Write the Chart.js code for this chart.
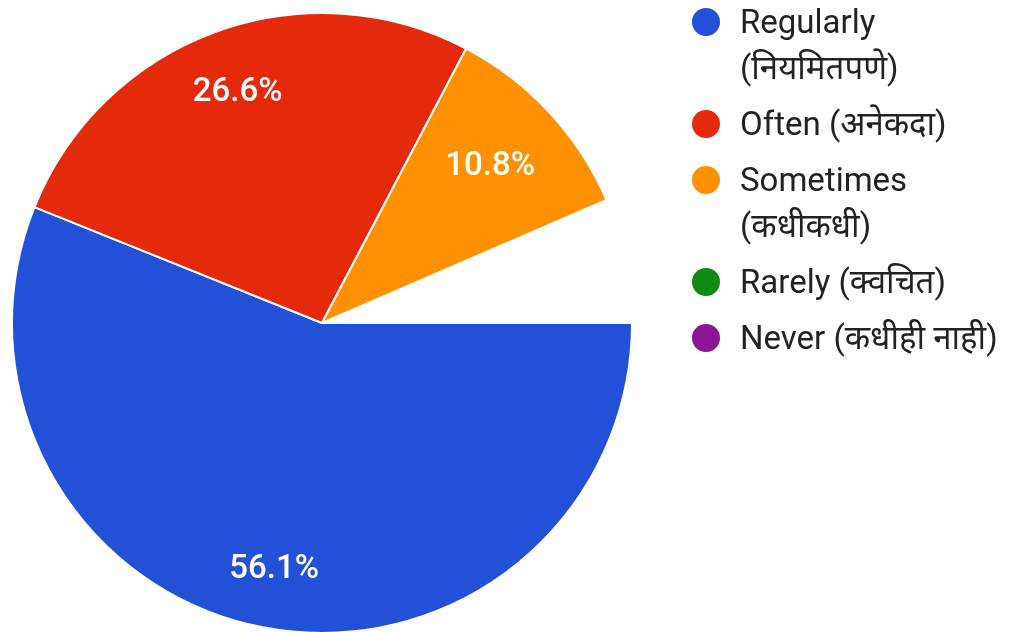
<!DOCTYPE html>
<html>
<head>
<meta charset="utf-8">
<script src="https://cdn.jsdelivr.net/npm/chart.js@4.4.1/dist/chart.umd.min.js"></script>
<style>
  html, body { margin: 0; padding: 0; background: #ffffff; width: 1015px; height: 632px; overflow: hidden; }
  #wrap { position: absolute; left: 0; top: 0; width: 1015px; height: 640px; }
  #legend { position: absolute; left: 690px; top: -1px; font-family: Roboto, "Noto Sans", sans-serif; font-size: 33px; color: #222222; }
  .item { position: relative; padding-left: 50px; line-height: 46px; margin-bottom: 10px; }
  .dot { position: absolute; left: 2px; top: 9px; width: 28px; height: 28px; border-radius: 50%; }
</style>
</head>
<body>
<div id="wrap"><canvas id="c" width="1015" height="640"></canvas></div>
<div id="legend"></div>
<script>
const categories = ["Regularly", "Often", "Sometimes", "Rarely", "Never"];
const legendLines = [
  ["Regularly", "(नियमितपणे)"],
  ["Often (अनेकदा)"],
  ["Sometimes", "(कधीकधी)"],
  ["Rarely (क्वचित)"],
  ["Never (कधीही नाही)"]
];
const percentValues = [56.1, 26.6, 10.8, 0, 0];
const colors = ["#2250d6", "#e52a0c", "#ff9100", "#0f8a12", "#8c1296"];

// label placement (fraction of radius), a style setting
const labelRadiusFactors = [0.81, 0.79, 0.74, 0.75, 0.75];

const total = percentValues.reduce((a, b) => a + b, 0);

const labelPlugin = {
  id: 'sliceLabels',
  afterDatasetsDraw(chart) {
    const ctx = chart.ctx;
    const meta = chart.getDatasetMeta(0);
    ctx.save();
    ctx.font = '500 33px Roboto, sans-serif';
    ctx.fillStyle = '#ffffff';
    ctx.textAlign = 'center';
    ctx.textBaseline = 'middle';
    meta.data.forEach((arc, i) => {
      const v = percentValues[i];
      if (!v) return;
      const p = arc.getProps(['x', 'y', 'startAngle', 'endAngle', 'outerRadius'], true);
      const mid = (p.startAngle + p.endAngle) / 2;
      const r = p.outerRadius * labelRadiusFactors[i];
      ctx.fillText(v.toFixed(1) + '%', p.x + Math.cos(mid) * r, p.y + Math.sin(mid) * r);
    });
    ctx.restore();
  }
};

new Chart(document.getElementById('c'), {
  type: 'pie',
  data: {
    labels: categories,
    datasets: [{
      data: percentValues,
      backgroundColor: colors,
      borderColor: '#ffffff',
      borderWidth: 2
    }]
  },
  options: {
    responsive: false,
    animation: false,
    rotation: 90,
    circumference: total / 100 * 360,
    layout: { padding: { left: 11, top: 12, right: 382, bottom: 6 } },
    plugins: { legend: { display: false }, tooltip: { enabled: false } }
  },
  plugins: [labelPlugin]
});

const lg = document.getElementById('legend');
legendLines.forEach((lines, i) => {
  const d = document.createElement('div');
  d.className = 'item';
  const dot = document.createElement('span');
  dot.className = 'dot';
  dot.style.background = colors[i];
  d.appendChild(dot);
  lines.forEach((t) => {
    const s = document.createElement('div');
    s.textContent = t;
    d.appendChild(s);
  });
  lg.appendChild(d);
});
</script>
</body>
</html>
